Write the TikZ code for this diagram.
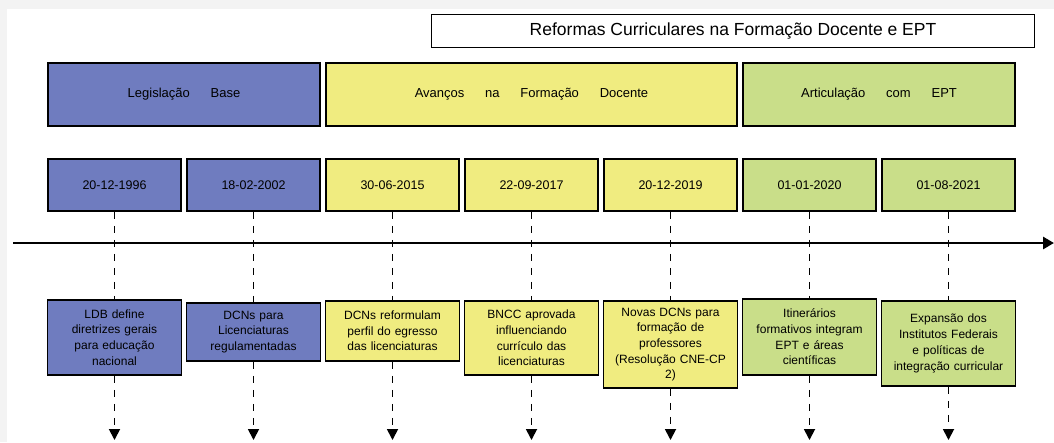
\documentclass[tikz,border=0pt]{standalone}
\usepackage{fontspec}
\setmainfont{Liberation Sans}
\usetikzlibrary{arrows.meta}
\definecolor{lblue}{HTML}{6F7CBF}
\definecolor{lyellow}{HTML}{F0EC80}
\definecolor{lgreen}{HTML}{C9DE89}
\definecolor{margin}{HTML}{F3F3F3}
\tikzset{
  boxbase/.style={draw=black, line width=1.9pt, inner sep=2pt},
  headbox/.style={boxbase, minimum height=63pt, font=\fontsize{13}{15}\selectfont},
  datebox/.style={boxbase, minimum width=133pt, minimum height=52pt, font=\fontsize{12.5}{15}\selectfont},
  descbox/.style={boxbase, anchor=north, minimum width=133pt, text width=130pt, align=center, font=\fontsize{12}{15.7}\selectfont},
  dashline/.style={draw=black, line width=1.8pt, dash pattern=on 7pt off 7pt},
  dasharrow/.style={dashline, -{Stealth[length=11pt,width=11pt,inset=0pt]}},
  timeline/.style={draw=black, line width=2.8pt, -{Stealth[length=11pt,width=12pt,inset=0pt]}},
  titlebox/.style={boxbase, fill=white, minimum width=603pt, minimum height=33pt, font=\fontsize{17.5}{20}\selectfont}
}
\begin{document}
\begin{tikzpicture}[x=1pt,y=-1pt]
\useasboundingbox (0,0) rectangle (1054,442);
\fill[margin] (0,0) rectangle (1054,442);
\fill[white] (7,9) rectangle (1054,442);

\node[titlebox] (title) at (733,31) {Reformas Curriculares na Formação Docente e EPT};

% header rows
\node[headbox, fill=lblue, minimum width=272pt] (h1) at (184,94.5) {Legislação\hspace{1.6em}Base};
\node[headbox, fill=lyellow, minimum width=411pt] (h2) at (531.5,94.5) {Avanços\hspace{1.6em}na\hspace{1.6em}Formação\hspace{1.6em}Docente};
\node[headbox, fill=lgreen, minimum width=272pt] (h3) at (879,94.5) {Articulação\hspace{1.6em}com\hspace{1.6em}EPT};

% date boxes
\node[datebox, fill=lblue] (d1) at (114.5,185) {20-12-1996};
\node[datebox, fill=lblue] (d2) at (253.5,185) {18-02-2002};
\node[datebox, fill=lyellow] (d3) at (392.5,185) {30-06-2015};
\node[datebox, fill=lyellow] (d4) at (531.5,185) {22-09-2017};
\node[datebox, fill=lyellow] (d5) at (670.5,185) {20-12-2019};
\node[datebox, fill=lgreen] (d6) at (809.5,185) {01-01-2020};
\node[datebox, fill=lgreen] (d7) at (948.5,185) {01-08-2021};

% descriptions
\node[descbox, fill=lblue, minimum height=75pt] (t1) at (114.5,299) {LDB define\\diretrizes gerais\\para educação\\nacional};
\node[descbox, fill=lblue, minimum height=58pt] (t2) at (253.5,302) {DCNs para\\Licenciaturas\\regulamentadas};
\node[descbox, fill=lyellow, minimum height=60pt] (t3) at (392.5,300) {DCNs reformulam\\perfil do egresso\\das licenciaturas};
\node[descbox, fill=lyellow, minimum height=74pt] (t4) at (531.5,300) {BNCC aprovada\\influenciando\\currículo das\\licenciaturas};
\node[descbox, fill=lyellow, minimum height=87pt] (t5) at (670.5,300) {Novas DCNs para\\formação de\\professores\\(Resolução CNE-CP\\2)};
\node[descbox, fill=lgreen, minimum height=76pt] (t6) at (809.5,298) {Itinerários\\formativos integram\\EPT e áreas\\científicas};
\node[descbox, fill=lgreen, minimum height=85pt] (t7) at (948.5,300) {Expansão dos\\Institutos Federais\\e políticas de\\integração curricular};

% arrow ends
\coordinate (e1) at (114.5,440);
\coordinate (e2) at (253.5,440);
\coordinate (e3) at (392.5,440);
\coordinate (e4) at (531.5,440);
\coordinate (e5) at (670.5,440);
\coordinate (e6) at (809.5,440);
\coordinate (e7) at (948.5,440);

\foreach \i in {1,...,7}{
  \draw[dashline] (d\i.south) -- (t\i.north);
  \draw[dasharrow] (t\i.south) -- (e\i);
}

% timeline
\coordinate (ts) at (13,243);
\coordinate (te) at (1054,243);
\draw[timeline] (ts) -- (te);
\end{tikzpicture}
\end{document}
